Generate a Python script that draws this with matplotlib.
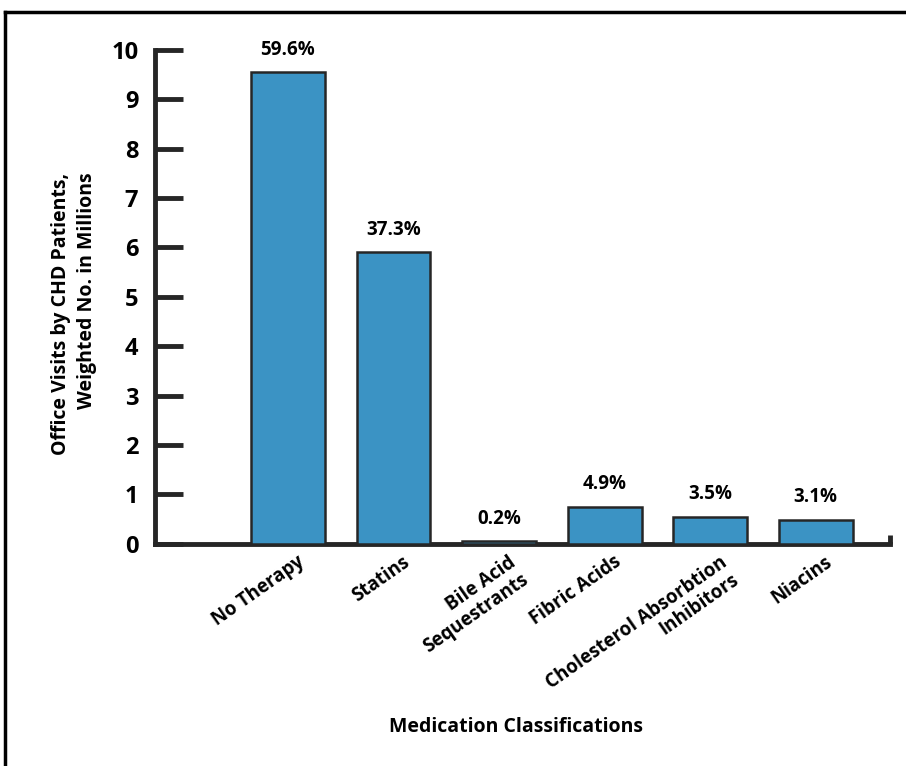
import matplotlib
matplotlib.use("Agg")
import matplotlib.pyplot as plt
from matplotlib.lines import Line2D
import matplotlib.transforms as mtransforms

categories = ["No Therapy", "Statins", "Bile Acid\nSequestrants", "Fibric Acids",
              "Cholesterol Absorbtion\nInhibitors", "Niacins"]
values = [9.55, 5.91, 0.05, 0.75, 0.55, 0.49]
pct_labels = ["59.6%", "37.3%", "0.2%", "4.9%", "3.5%", "3.1%"]
yticks = [0, 1, 2, 3, 4, 5, 6, 7, 8, 9, 10]

plt.rcParams['font.family'] = ['Open Sans', 'DejaVu Sans']
plt.rcParams['font.weight'] = 'bold'

fig = plt.figure(figsize=(9.06, 7.66), dpi=100)
ax = fig.add_axes([0.171, 0.290, 0.811, 0.645])

x = list(range(len(categories)))
ax.bar(x, values, width=0.7, color="#3b93c4", edgecolor="#262626", linewidth=1.8, zorder=3)

for xi, v, lab in zip(x, values, pct_labels):
    ax.text(xi, v + 0.25, lab, ha="center", va="bottom", fontsize=13.5, fontweight="bold")

ax.set_xlim(-1.26, 5.7)
ax.set_ylim(0, 10)
ax.set_yticks(yticks)
ax.set_yticklabels([str(t) for t in yticks], fontsize=17, fontweight="bold")
ax.tick_params(axis="y", direction="in", length=20, width=3.5, color="#262626", pad=12)
ax.set_xticks(x)
ax.set_xticklabels(categories, rotation=35, ha="right", va="top", rotation_mode="anchor",
                   multialignment="right", fontsize=13.5, fontweight="bold", linespacing=1.1)
ax.tick_params(axis="x", length=0, pad=6)
offset = mtransforms.ScaledTranslation(9 / 100, 0 / 100, fig.dpi_scale_trans)
for lbl in ax.get_xticklabels():
    lbl.set_transform(lbl.get_transform() + offset)

for s in ["top", "right"]:
    ax.spines[s].set_visible(False)
for s in ["left", "bottom"]:
    ax.spines[s].set_linewidth(3.5)
    ax.spines[s].set_color("#262626")

# small end tick at right of x axis
ax.plot([1, 1], [0, 0.018], transform=ax.transAxes, color="#262626", lw=3.5,
        clip_on=False, solid_capstyle="butt")

ax.set_ylabel("Office Visits by CHD Patients,\nWeighted No. in Millions", fontsize=14,
              fontweight="bold", linespacing=1.45, multialignment="right", va="center")
ax.yaxis.set_label_coords(-0.110, 0.466)
fig.text(0.5695, 0.051, "Medication Classifications", ha="center", va="center",
         fontsize=14, fontweight="bold")

# figure frame (top and left visible)
fig.add_artist(Line2D([0.005, 1.0], [0.984, 0.984], transform=fig.transFigure, color="black", lw=2.5))
fig.add_artist(Line2D([0.005, 0.005], [0.0, 0.984], transform=fig.transFigure, color="black", lw=2.5))

fig.savefig("out.png", dpi=100)
